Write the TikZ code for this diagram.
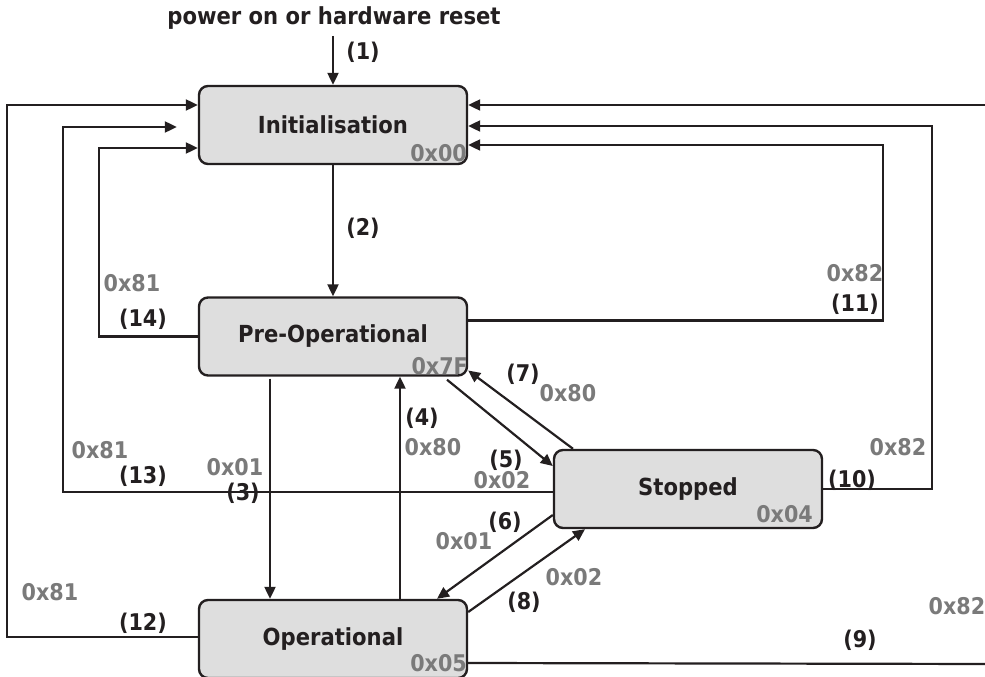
\documentclass[tikz,border=0pt]{standalone}
\usepackage{fontspec}
\setmainfont{DejaVu Sans Condensed}
\usetikzlibrary{arrows.meta}
\definecolor{boxfill}{HTML}{DEDEDE}
\definecolor{codegray}{HTML}{7A7A7A}
\definecolor{ink}{HTML}{231F20}
\begin{document}
\begin{tikzpicture}[x=1pt,y=-1pt,
  state/.style={draw=ink, line width=2.4pt, fill=boxfill, rounded corners=9pt,
    minimum width=268pt, minimum height=78pt, inner sep=0pt,
    font=\fontsize{23.5}{27}\selectfont\bfseries, text=ink},
  lbl/.style={font=\fontsize{23}{27}\selectfont\bfseries, text=ink, inner sep=0pt},
  code/.style={font=\fontsize{23}{27}\selectfont\bfseries, text=codegray, inner sep=0pt},
  conn/.style={draw=ink, line width=2.2pt},
  arr/.style={conn, -{Triangle[length=12pt,width=11pt]}}
]
\useasboundingbox (0,0) rectangle (985,677);

% states
\node[state] (init) at (333,125) {Initialisation};
\node[state] (pre) at (333,336.5) {Pre-Operational};
\node[state] (stop) at (688,489) {Stopped};
\node[state] (op) at (333,639) {Operational};

% state codes
\node[code, anchor=base east] (cinit) at (467,161) {0x00};
\node[code, anchor=base east] (cpre) at (468,374) {0x7F};
\node[code, anchor=base east] (cstop) at (813,522) {0x04};
\node[code, anchor=base east] (cop) at (467,671) {0x05};

% (1)
\node[lbl, font=\fontsize{23.5}{27}\selectfont\bfseries] (power) at (334,18) {power on or hardware reset};
\coordinate (p1) at (333,36);
\draw[arr] (p1) -- (init.north);
\node[lbl] (l1) at (363,52) {(1)};

% (2)
\draw[arr] (init.south) -- (pre.north);
\node[lbl] (l2) at (363,228) {(2)};

% (3)
\draw[arr] ([xshift=-63pt,yshift=-2pt]pre.south) -- ([xshift=-63pt]op.north);
\node[code] (c3) at (235,467) {0x01};
\node[lbl] (l3) at (243,493) {(3)};

% (4)
\draw[arr] ([xshift=67pt,yshift=-2pt]op.north) -- ([xshift=67pt]pre.south);
\node[lbl] (l4) at (422,418) {(4)};
\node[code] (c4) at (433,447) {0x80};

% (5)
\draw[arr] ([xshift=114pt,yshift=-3pt]pre.south) -- ([yshift=23pt]stop.west);
\node[lbl] (l5) at (506,460) {(5)};
\node[code] (c5) at (502,480) {0x02};

% (7)
\draw[arr] ([xshift=-115pt]stop.north) -- ([yshift=-34pt]pre.east);
\node[lbl] (l7) at (523,374) {(7)};
\node[code] (c7) at (568,393) {0x80};

% (6)
\draw[arr] ([yshift=-26pt]stop.west) -- ([xshift=104pt]op.north);
\node[lbl] (l6) at (505,522) {(6)};
\node[code] (c6) at (464,541) {0x01};

% (8)
\draw[arr] ([yshift=27pt]op.east) -- ([xshift=-103pt]stop.south);
\node[code] (c8) at (574,577) {0x02};
\node[lbl] (l8) at (524,602) {(8)};

% (9)
\coordinate (e9a) at (995,664);
\coordinate (e9b) at (995,105);
\draw[conn] ([yshift=-24pt]op.east) -- (e9a);
\draw[arr] (e9b) -- ([yshift=20pt]init.east);
\node[code] (c9) at (957,606) {0x82};
\node[lbl] (l9) at (860,640) {(9)};

% (10)
\draw[arr] (stop.east) -- ++(109,0) |- ([yshift=-1pt]init.east);
\node[code] (c10) at (898,447) {0x82};
\node[lbl] (l10) at (852,480) {(10)};

% (11)
\draw[arr] ([yshift=16pt]pre.east) -- ++(415,0) |- ([yshift=-20pt]init.east);
\node[code] (c11) at (855,273) {0x82};
\node[lbl] (l11) at (855,304) {(11)};

% (12)
\draw[arr] ([yshift=2pt]op.west) -- ++(-191,0) |- ([yshift=20pt]init.west);
\node[code] (c12) at (50,592) {0x81};
\node[lbl] (l12) at (143,623) {(12)};

% (13)
\draw[arr] ([yshift=-3pt]stop.west) -- ++(-490,0) |- ([xshift=-21pt,yshift=-2pt]init.west);
\node[code] (c13) at (100,450) {0x81};
\node[lbl] (l13) at (143,476) {(13)};

% (14)
\draw[arr] (pre.west) -- ++(-99,0) |- ([yshift=-23pt]init.west);
\node[code] (c14) at (132,283) {0x81};
\node[lbl] (l14) at (143,319) {(14)};
\end{tikzpicture}
\end{document}
